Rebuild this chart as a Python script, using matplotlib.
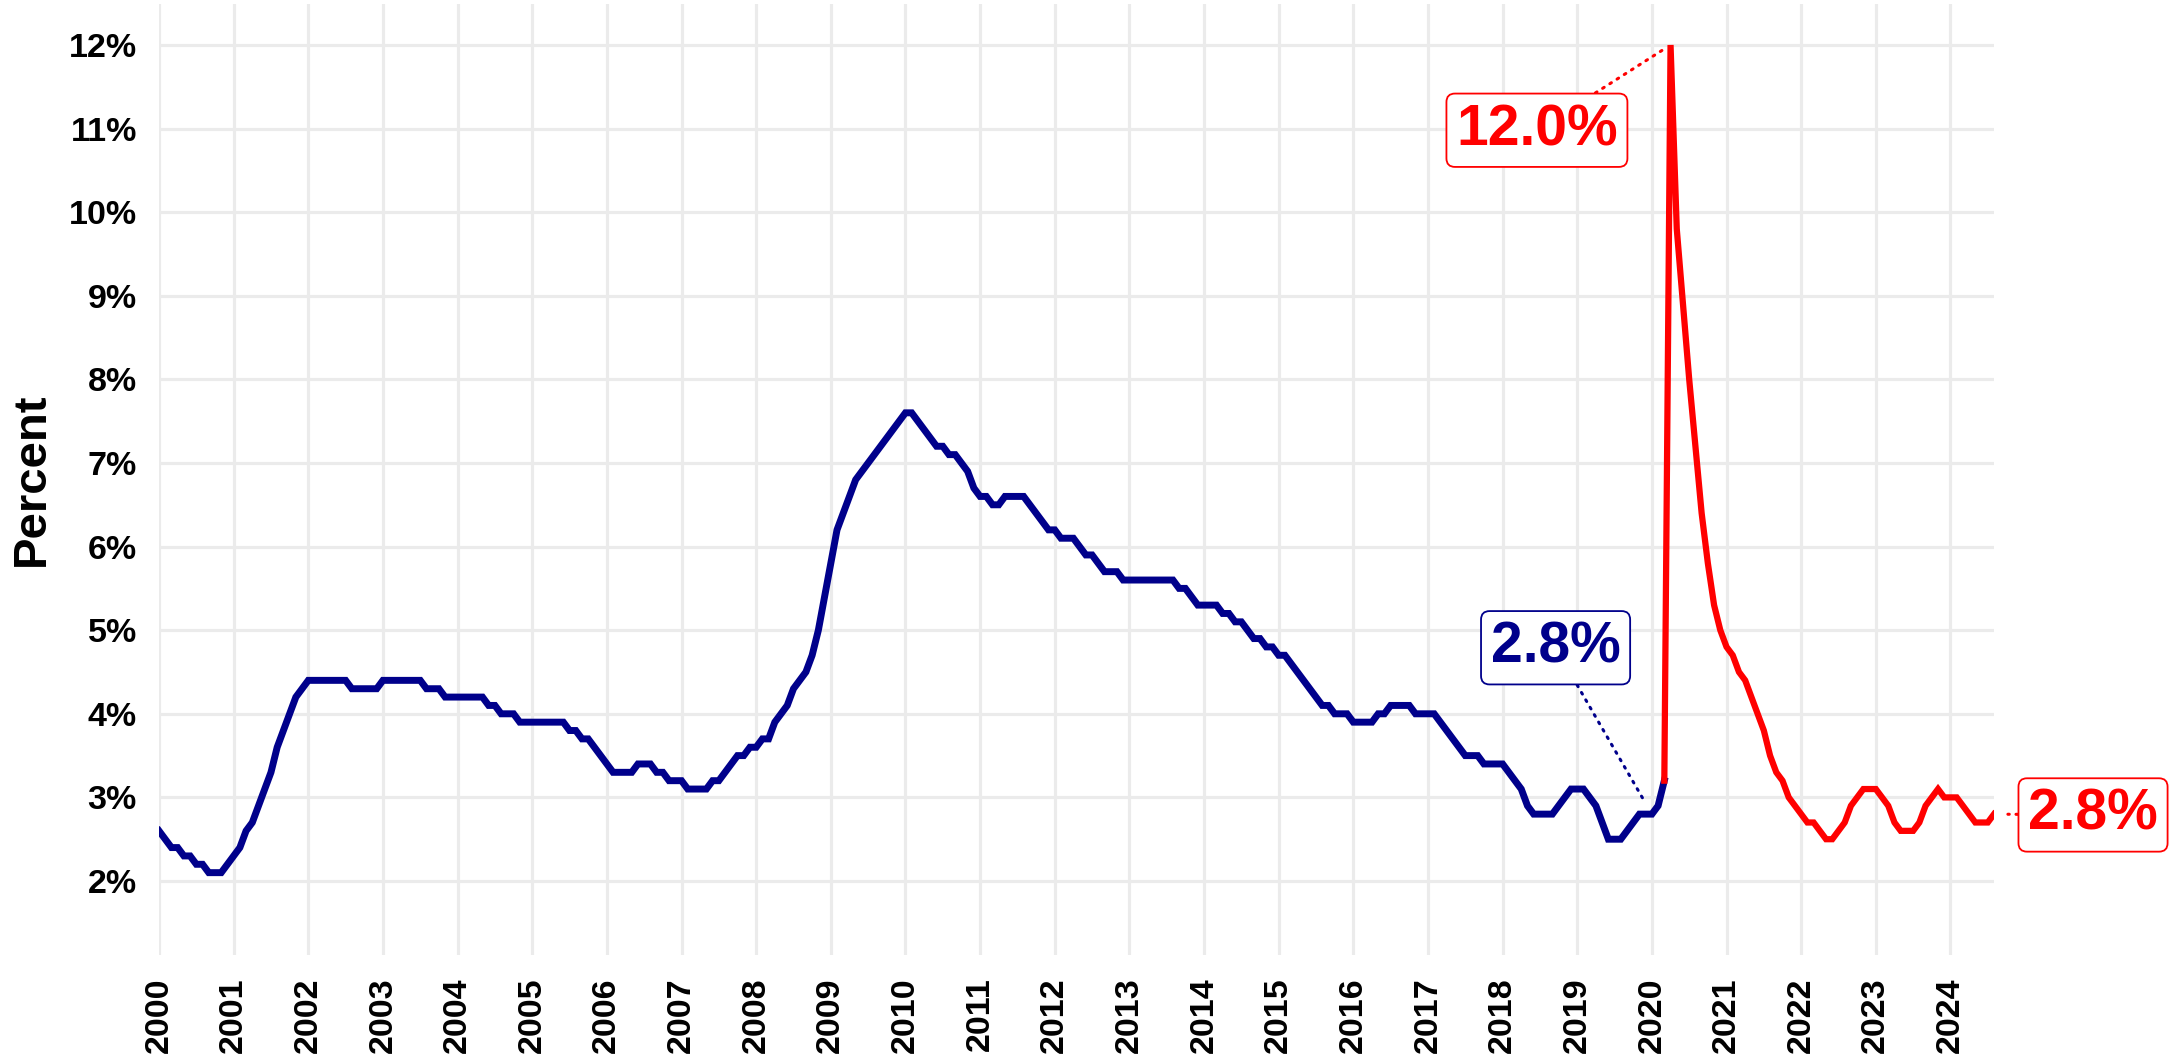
import matplotlib
matplotlib.use("Agg")
import matplotlib.pyplot as plt
import numpy as np

plt.rcParams['font.family'] = ['Liberation Sans', 'DejaVu Sans']

# Monthly values, Jan 2000 - Mar 2020 (pre-pandemic series)
blue_start = 2000.0
blue_vals = [
    2.6, 2.5, 2.4, 2.4, 2.3, 2.3, 2.2, 2.2, 2.1, 2.1, 2.1, 2.2,   # 2000
    2.3, 2.4, 2.6, 2.7, 2.9, 3.1, 3.3, 3.6, 3.8, 4.0, 4.2, 4.3,   # 2001
    4.4, 4.4, 4.4, 4.4, 4.4, 4.4, 4.4, 4.3, 4.3, 4.3, 4.3, 4.3,   # 2002
    4.4, 4.4, 4.4, 4.4, 4.4, 4.4, 4.4, 4.3, 4.3, 4.3, 4.2, 4.2,   # 2003
    4.2, 4.2, 4.2, 4.2, 4.2, 4.1, 4.1, 4.0, 4.0, 4.0, 3.9, 3.9,   # 2004
    3.9, 3.9, 3.9, 3.9, 3.9, 3.9, 3.8, 3.8, 3.7, 3.7, 3.6, 3.5,   # 2005
    3.4, 3.3, 3.3, 3.3, 3.3, 3.4, 3.4, 3.4, 3.3, 3.3, 3.2, 3.2,   # 2006
    3.2, 3.1, 3.1, 3.1, 3.1, 3.2, 3.2, 3.3, 3.4, 3.5, 3.5, 3.6,   # 2007
    3.6, 3.7, 3.7, 3.9, 4.0, 4.1, 4.3, 4.4, 4.5, 4.7, 5.0, 5.4,   # 2008
    5.8, 6.2, 6.4, 6.6, 6.8, 6.9, 7.0, 7.1, 7.2, 7.3, 7.4, 7.5,   # 2009
    7.6, 7.6, 7.5, 7.4, 7.3, 7.2, 7.2, 7.1, 7.1, 7.0, 6.9, 6.7,   # 2010
    6.6, 6.6, 6.5, 6.5, 6.6, 6.6, 6.6, 6.6, 6.5, 6.4, 6.3, 6.2,   # 2011
    6.2, 6.1, 6.1, 6.1, 6.0, 5.9, 5.9, 5.8, 5.7, 5.7, 5.7, 5.6,   # 2012
    5.6, 5.6, 5.6, 5.6, 5.6, 5.6, 5.6, 5.6, 5.5, 5.5, 5.4, 5.3,   # 2013
    5.3, 5.3, 5.3, 5.2, 5.2, 5.1, 5.1, 5.0, 4.9, 4.9, 4.8, 4.8,   # 2014
    4.7, 4.7, 4.6, 4.5, 4.4, 4.3, 4.2, 4.1, 4.1, 4.0, 4.0, 4.0,   # 2015
    3.9, 3.9, 3.9, 3.9, 4.0, 4.0, 4.1, 4.1, 4.1, 4.1, 4.0, 4.0,   # 2016
    4.0, 4.0, 3.9, 3.8, 3.7, 3.6, 3.5, 3.5, 3.5, 3.4, 3.4, 3.4,   # 2017
    3.4, 3.3, 3.2, 3.1, 2.9, 2.8, 2.8, 2.8, 2.8, 2.9, 3.0, 3.1,   # 2018
    3.1, 3.1, 3.0, 2.9, 2.7, 2.5, 2.5, 2.5, 2.6, 2.7, 2.8, 2.8,   # 2019
    2.8, 2.9, 3.2,                                               # 2020 Jan-Mar
]

# Monthly values, Mar 2020 - Aug 2024 (pandemic and after)
red_start = 2020.0 + 2 / 12
red_vals = [
    3.2, 12.0, 9.8, 8.9, 8.0, 7.2, 6.4, 5.8, 5.3, 5.0,           # 2020 Mar-Dec
    4.8, 4.7, 4.5, 4.4, 4.2, 4.0, 3.8, 3.5, 3.3, 3.2, 3.0, 2.9,   # 2021
    2.8, 2.7, 2.7, 2.6, 2.5, 2.5, 2.6, 2.7, 2.9, 3.0, 3.1, 3.1,   # 2022
    3.1, 3.0, 2.9, 2.7, 2.6, 2.6, 2.6, 2.7, 2.9, 3.0, 3.1, 3.0,   # 2023
    3.0, 3.0, 2.9, 2.8, 2.7, 2.7, 2.7, 2.8,                       # 2024 Jan-Aug
]

year_ticks = list(range(2000, 2025))
pct_ticks = list(range(2, 13))

BLUE = '#00008B'
RED = '#FF0000'

blue_x = blue_start + np.arange(len(blue_vals)) / 12
red_x = red_start + np.arange(len(red_vals)) / 12

fig = plt.figure(figsize=(21.8, 10.57), dpi=100)
ax = fig.add_axes([159 / 2180, 1 - 955 / 1057, (1994 - 159) / 2180, (955 - 4) / 1057])

ax.plot(blue_x, blue_vals, color=BLUE, lw=5.0, solid_joinstyle='miter', zorder=3)
ax.plot(red_x, red_vals, color=RED, lw=4.5, solid_joinstyle='miter', zorder=3)

ax.set_xlim(2000, red_x[-1])
ax.set_ylim(1.115, 12.49)
ax.set_xticks(year_ticks)
ax.set_xticklabels([str(y) for y in year_ticks], rotation=90, fontsize=24.5,
                   fontweight='bold', va='top')
ax.set_yticks(pct_ticks)
ax.set_yticklabels([f'{p}%' for p in pct_ticks], fontsize=24.5, fontweight='bold')
ax.tick_params(axis='both', length=0, pad=16)
ax.grid(True, color='#EBEBEB', lw=2.3)
ax.set_axisbelow(True)
for s in ax.spines.values():
    s.set_visible(False)

fig.text(32 / 2180, 1 - 479 / 1057, 'Percent', rotation=90, ha='center', va='center',
         fontsize=34, fontweight='bold')


def label(xy, xytext, text, color, shrink):
    ax.annotate(text, xy=xy, xytext=xytext, textcoords='data',
                ha='center', va='center', fontsize=41, fontweight='bold', color=color,
                annotation_clip=False, zorder=5,
                bbox=dict(boxstyle='round,pad=0.17,rounding_size=0.15', fc='white',
                          ec=color, lw=1.3),
                arrowprops=dict(arrowstyle='-', color=color, lw=2.2,
                                linestyle=(0, (0.6, 2.2)), capstyle='round',
                                shrinkA=0, shrinkB=shrink))


peak_i = int(np.argmax(red_vals))
label((red_x[peak_i], red_vals[peak_i]), (2018.46, 10.98), f'{red_vals[peak_i]:.1f}%', RED, 7)
label((2020.0, blue_vals[240]), (2018.71, 4.79), f'{blue_vals[240]:.1f}%', BLUE, 11)
label((red_x[-1], red_vals[-1]), (2025.91, 2.79), f'{red_vals[-1]:.1f}%', RED, 10)

fig.savefig('out.png', dpi=100, facecolor='white')
